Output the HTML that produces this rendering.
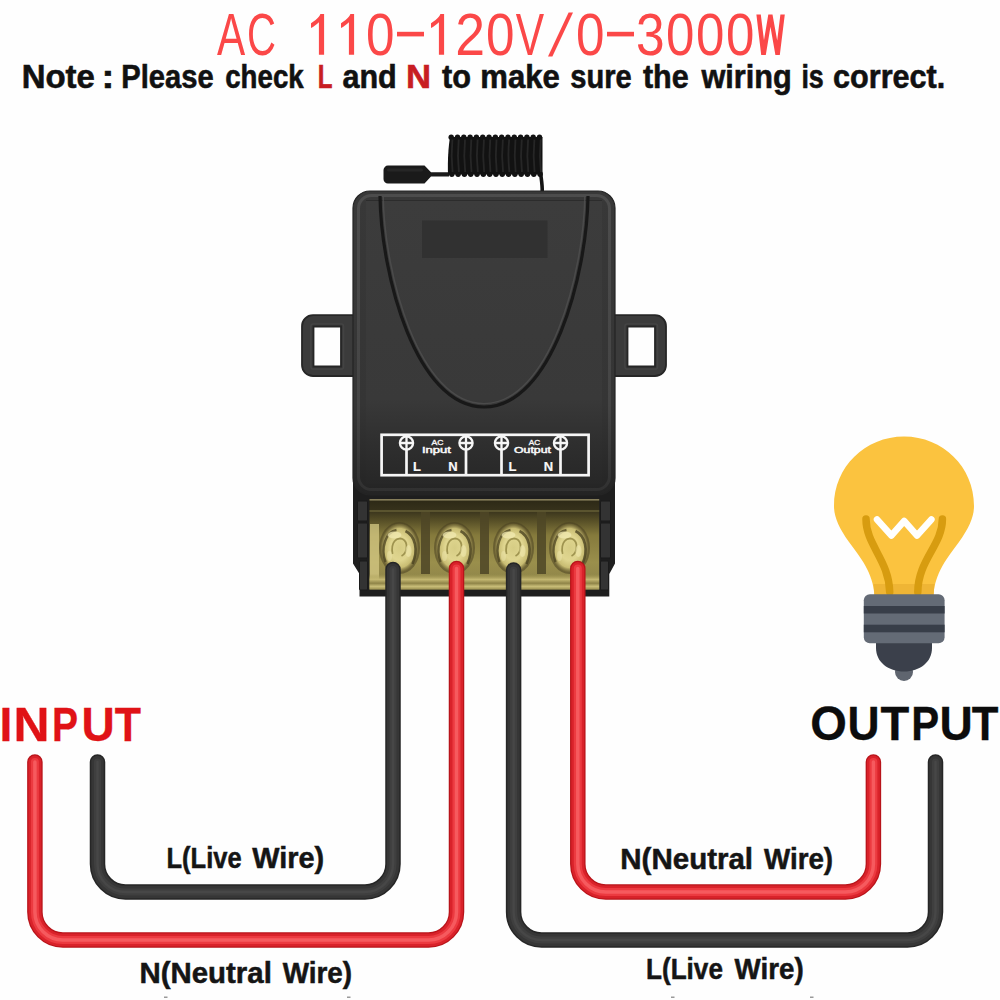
<!DOCTYPE html>
<html><head><meta charset="utf-8">
<style>
html,body{margin:0;padding:0;background:#fefefe;width:1000px;height:1000px;overflow:hidden}
svg{display:block}
text{font-family:"Liberation Sans",sans-serif;font-weight:bold}
</style></head>
<body>
<svg width="1000" height="1000" viewBox="0 0 1000 1000">
<defs>
  <linearGradient id="brass" x1="0" y1="499" x2="0" y2="589.5" gradientUnits="userSpaceOnUse">
    <stop offset="0" stop-color="#2c2816"/>
    <stop offset="0.12" stop-color="#36311b"/>
    <stop offset="0.25" stop-color="#5a5228"/>
    <stop offset="0.4" stop-color="#857a3c"/>
    <stop offset="0.7" stop-color="#9a8f4c"/>
    <stop offset="1" stop-color="#8a8048"/>
  </linearGradient>
  <linearGradient id="shelf" x1="0" y1="0" x2="0" y2="1">
    <stop offset="0" stop-color="#a29650" stop-opacity="0"/>
    <stop offset="0.35" stop-color="#c4b872"/>
    <stop offset="0.6" stop-color="#8f8448"/>
    <stop offset="0.8" stop-color="#c9bd78"/>
    <stop offset="1" stop-color="#9a8f50"/>
  </linearGradient>
  <radialGradient id="screw" cx="0.5" cy="0.5" r="0.5">
    <stop offset="0" stop-color="#d6cc84"/>
    <stop offset="0.5" stop-color="#e0d690"/>
    <stop offset="0.8" stop-color="#c8bc72"/>
    <stop offset="1" stop-color="#6d6232" stop-opacity="0.6"/>
  </radialGradient>
  <linearGradient id="bodyg" x1="0" y1="191" x2="0" y2="495" gradientUnits="userSpaceOnUse">
    <stop offset="0" stop-color="#383838"/>
    <stop offset="0.7" stop-color="#353535"/>
    <stop offset="1" stop-color="#242424"/>
  </linearGradient>
  <linearGradient id="faceg" x1="0" y1="200" x2="0" y2="484" gradientUnits="userSpaceOnUse">
    <stop offset="0" stop-color="#3c3c3c"/>
    <stop offset="0.7" stop-color="#393939"/>
    <stop offset="0.85" stop-color="#2f2f2f"/>
    <stop offset="1" stop-color="#272727"/>
  </linearGradient>
  <linearGradient id="rimg" x1="0" y1="191" x2="0" y2="495" gradientUnits="userSpaceOnUse">
    <stop offset="0" stop-color="#4c4c4c"/>
    <stop offset="0.7" stop-color="#454545"/>
    <stop offset="1" stop-color="#303030"/>
  </linearGradient>
</defs>

<!-- Title -->
<g fill="#fb4848" stroke="none">
<text transform="translate(216.92,54.5) scale(0.709,1)" font-size="59.6" style="font-weight:normal">A</text>
<text transform="translate(246.96,54.5) scale(0.673,1)" font-size="59.6" style="font-weight:normal">C</text>
<path d="M324.1,14 V54.8 H318.9 V22.2 C316.3,24.6 313.7,26.6 311.0,28 V23.2 C314.6,21 319.4,17.5 320.4,14 Z"/>
<path d="M354.1,14 V54.8 H348.9 V22.2 C346.3,24.6 343.7,26.6 341.0,28 V23.2 C344.6,21 349.4,17.5 350.4,14 Z"/>
<text transform="translate(366.00,54.5) scale(0.860,1)" font-size="59.6" style="font-weight:normal">0</text>
<rect x="397" y="31.8" width="27" height="4.6"/>
<path d="M444.1,14 V54.8 H438.9 V22.2 C436.3,24.6 433.7,26.6 431.0,28 V23.2 C434.6,21 439.4,17.5 440.4,14 Z"/>
<text transform="translate(455.31,54.5) scale(0.899,1)" font-size="59.6" style="font-weight:normal">2</text>
<text transform="translate(486.00,54.5) scale(0.860,1)" font-size="59.6" style="font-weight:normal">0</text>
<text transform="translate(515.81,54.5) scale(0.714,1)" font-size="59.6" style="font-weight:normal">V</text>
<path d="M568.6,12.6 H573.0 L552.4,56.6 H548.0 Z"/>
<text transform="translate(576.00,54.5) scale(0.860,1)" font-size="59.6" style="font-weight:normal">0</text>
<rect x="607" y="31.8" width="27" height="4.6"/>
<text transform="translate(636.04,54.5) scale(0.863,1)" font-size="59.6" style="font-weight:normal">3</text>
<text transform="translate(666.01,54.5) scale(0.856,1)" font-size="59.6" style="font-weight:normal">0</text>
<text transform="translate(696.01,54.5) scale(0.856,1)" font-size="59.6" style="font-weight:normal">0</text>
<text transform="translate(726.01,54.5) scale(0.856,1)" font-size="59.6" style="font-weight:normal">0</text>
<path d="M756.4,14.6 H760.8 L765.8,55 H761.2 Z M768.3,14.6 H772.5 L765.8,55 H761.5 Z M768.3,14.6 H772.5 L779.8,55 H775.4 Z M780.4,14.6 H784.8 L779.8,55 H775.4 Z"/>
</g>

<text x="21.70" y="88" font-size="33" fill="#111" stroke="#111" stroke-width="0.6" textLength="73.13" lengthAdjust="spacingAndGlyphs">Note</text>
<text x="101.61" y="88" font-size="33" fill="#111" stroke="#111" stroke-width="0.6" textLength="12.79" lengthAdjust="spacingAndGlyphs">:</text>
<text x="121.35" y="88" font-size="33" fill="#111" stroke="#111" stroke-width="0.6" textLength="92.34" lengthAdjust="spacingAndGlyphs">Please</text>
<text x="225.22" y="88" font-size="33" fill="#111" stroke="#111" stroke-width="0.6" textLength="78.45" lengthAdjust="spacingAndGlyphs">check</text>
<text x="317.68" y="88" font-size="33" fill="#c81d23" stroke="#c81d23" stroke-width="0.6" textLength="14.76" lengthAdjust="spacingAndGlyphs">L</text>
<text x="342.41" y="88" font-size="33" fill="#111" stroke="#111" stroke-width="0.6" textLength="54.31" lengthAdjust="spacingAndGlyphs">and</text>
<text x="405.98" y="88" font-size="33" fill="#c81d23" stroke="#c81d23" stroke-width="0.6" textLength="25.06" lengthAdjust="spacingAndGlyphs">N</text>
<text x="441.93" y="88" font-size="33" fill="#111" stroke="#111" stroke-width="0.6" textLength="28.97" lengthAdjust="spacingAndGlyphs">to</text>
<text x="480.25" y="88" font-size="33" fill="#111" stroke="#111" stroke-width="0.6" textLength="79.51" lengthAdjust="spacingAndGlyphs">make</text>
<text x="570.28" y="88" font-size="33" fill="#111" stroke="#111" stroke-width="0.6" textLength="61.42" lengthAdjust="spacingAndGlyphs">sure</text>
<text x="642.93" y="88" font-size="33" fill="#111" stroke="#111" stroke-width="0.6" textLength="45.82" lengthAdjust="spacingAndGlyphs">the</text>
<text x="701.39" y="88" font-size="33" fill="#111" stroke="#111" stroke-width="0.6" textLength="90.36" lengthAdjust="spacingAndGlyphs">wiring</text>
<text x="801.43" y="88" font-size="33" fill="#111" stroke="#111" stroke-width="0.6" textLength="22.37" lengthAdjust="spacingAndGlyphs">is</text>
<text x="833.11" y="88" font-size="33" fill="#111" stroke="#111" stroke-width="0.6" textLength="112.20" lengthAdjust="spacingAndGlyphs">correct.</text>


<!-- Antenna -->
<g id="antenna">
  <path d="M388,165.6 H424.5 L431,172.3 H449 V176.6 H431 L424.5,183.6 H388 A4.5,4.5 0 0 1 383.5,179.1 V170.1 A4.5,4.5 0 0 1 388,165.6 Z" fill="#1a1a1a"/>
  <rect x="387" y="168.5" width="36" height="3" rx="1.5" fill="#262626"/>
  <path d="M540.5,172 C541,178 542.5,184 542.2,192" fill="none" stroke="#141414" stroke-width="3.6"/>
<path d="M450,137 H542.5 V174.5 H448 C447.5,160 448.5,146 450,137 Z" fill="#121212"/>
<circle cx="451.20" cy="137.3" r="2.7" fill="#121212"/>
<circle cx="451.80" cy="174.2" r="2.7" fill="#121212"/>
<circle cx="457.51" cy="137.3" r="2.7" fill="#121212"/>
<circle cx="458.11" cy="174.2" r="2.7" fill="#121212"/>
<circle cx="463.81" cy="137.3" r="2.7" fill="#121212"/>
<circle cx="464.41" cy="174.2" r="2.7" fill="#121212"/>
<circle cx="470.12" cy="137.3" r="2.7" fill="#121212"/>
<circle cx="470.72" cy="174.2" r="2.7" fill="#121212"/>
<circle cx="476.43" cy="137.3" r="2.7" fill="#121212"/>
<circle cx="477.03" cy="174.2" r="2.7" fill="#121212"/>
<circle cx="482.74" cy="137.3" r="2.7" fill="#121212"/>
<circle cx="483.34" cy="174.2" r="2.7" fill="#121212"/>
<circle cx="489.04" cy="137.3" r="2.7" fill="#121212"/>
<circle cx="489.64" cy="174.2" r="2.7" fill="#121212"/>
<circle cx="495.35" cy="137.3" r="2.7" fill="#121212"/>
<circle cx="495.95" cy="174.2" r="2.7" fill="#121212"/>
<circle cx="501.66" cy="137.3" r="2.7" fill="#121212"/>
<circle cx="502.26" cy="174.2" r="2.7" fill="#121212"/>
<circle cx="507.96" cy="137.3" r="2.7" fill="#121212"/>
<circle cx="508.56" cy="174.2" r="2.7" fill="#121212"/>
<circle cx="514.27" cy="137.3" r="2.7" fill="#121212"/>
<circle cx="514.87" cy="174.2" r="2.7" fill="#121212"/>
<circle cx="520.58" cy="137.3" r="2.7" fill="#121212"/>
<circle cx="521.18" cy="174.2" r="2.7" fill="#121212"/>
<circle cx="526.89" cy="137.3" r="2.7" fill="#121212"/>
<circle cx="527.49" cy="174.2" r="2.7" fill="#121212"/>
<circle cx="533.19" cy="137.3" r="2.7" fill="#121212"/>
<circle cx="533.79" cy="174.2" r="2.7" fill="#121212"/>
<circle cx="539.50" cy="137.3" r="2.7" fill="#121212"/>
<circle cx="540.10" cy="174.2" r="2.7" fill="#121212"/>
<path d="M452.40,139.5 C451.40,150 451.50,162 452.60,172" stroke="#2a2a2a" stroke-width="1.8" fill="none" opacity="0.85"/>
<path d="M458.71,139.5 C457.71,150 457.81,162 458.91,172" stroke="#2a2a2a" stroke-width="1.8" fill="none" opacity="0.85"/>
<path d="M465.01,139.5 C464.01,150 464.11,162 465.21,172" stroke="#2a2a2a" stroke-width="1.8" fill="none" opacity="0.85"/>
<path d="M471.32,139.5 C470.32,150 470.42,162 471.52,172" stroke="#2a2a2a" stroke-width="1.8" fill="none" opacity="0.85"/>
<path d="M477.63,139.5 C476.63,150 476.73,162 477.83,172" stroke="#2a2a2a" stroke-width="1.8" fill="none" opacity="0.85"/>
<path d="M483.94,139.5 C482.94,150 483.04,162 484.14,172" stroke="#2a2a2a" stroke-width="1.8" fill="none" opacity="0.85"/>
<path d="M490.24,139.5 C489.24,150 489.34,162 490.44,172" stroke="#2a2a2a" stroke-width="1.8" fill="none" opacity="0.85"/>
<path d="M496.55,139.5 C495.55,150 495.65,162 496.75,172" stroke="#2a2a2a" stroke-width="1.8" fill="none" opacity="0.85"/>
<path d="M502.86,139.5 C501.86,150 501.96,162 503.06,172" stroke="#2a2a2a" stroke-width="1.8" fill="none" opacity="0.85"/>
<path d="M509.16,139.5 C508.16,150 508.26,162 509.36,172" stroke="#2a2a2a" stroke-width="1.8" fill="none" opacity="0.85"/>
<path d="M515.47,139.5 C514.47,150 514.57,162 515.67,172" stroke="#2a2a2a" stroke-width="1.8" fill="none" opacity="0.85"/>
<path d="M521.78,139.5 C520.78,150 520.88,162 521.98,172" stroke="#2a2a2a" stroke-width="1.8" fill="none" opacity="0.85"/>
<path d="M528.09,139.5 C527.09,150 527.19,162 528.29,172" stroke="#2a2a2a" stroke-width="1.8" fill="none" opacity="0.85"/>
<path d="M534.39,139.5 C533.39,150 533.49,162 534.59,172" stroke="#2a2a2a" stroke-width="1.8" fill="none" opacity="0.85"/>
<path d="M540.70,139.5 C539.70,150 539.80,162 540.90,172" stroke="#2a2a2a" stroke-width="1.8" fill="none" opacity="0.85"/>

</g>

<!-- Ears -->
<g fill-rule="evenodd" stroke="#262626" stroke-width="1.8" fill="#3b3b3b">
<path d="M360,315.2 H313 A11,11 0 0 0 302,326.2 V365 A11,11 0 0 0 313,376 H360 Z M313.5,326.5 H341 V366.5 H313.5 Z"/>
<path d="M608,315.2 H655 A11,11 0 0 1 666,326.2 V365 A11,11 0 0 1 655,376 H608 Z M627.5,326.5 H655 V366.5 H627.5 Z"/>
</g>

<g fill="none" stroke="#474747" stroke-width="1.2" opacity="0.8">
<rect x="310.8" y="323.8" width="32.9" height="45.4" rx="2.5"/>
<rect x="624.8" y="323.8" width="32.9" height="45.4" rx="2.5"/>
</g>
<!-- Lower frame -->
<path d="M353,470 H615 V563.5 L609.3,574 V596.5 H359.5 V574 L353,563.5 Z" fill="#1e1e1e"/>
<g fill="#333333" stroke="#1a1a1a" stroke-width="1">
  <rect x="357.5" y="501" width="10" height="20" rx="1"/>
  <rect x="357.5" y="523" width="10" height="35" rx="1"/>
  <rect x="359.5" y="561" width="8" height="29" rx="1"/>
  <rect x="600.5" y="501" width="10" height="20" rx="1"/>
  <rect x="600.5" y="523" width="10" height="35" rx="1"/>
  <rect x="600.5" y="561" width="8" height="29" rx="1"/>
</g>
<!-- Body -->
<path d="M370,191 H598 A17,17 0 0 1 615,208 V478 A17,17 0 0 1 598,495 H370 A17,17 0 0 1 353,478 V208 A17,17 0 0 1 370,191 Z" fill="url(#bodyg)" stroke="#242424" stroke-width="1.2"/>
<path d="M372,195.5 H596 A13,13 0 0 1 609.5,208.5 V476 A13,13 0 0 1 596,489.5 H372 A13,13 0 0 1 358.5,476 V208.5 A13,13 0 0 1 372,195.5 Z" fill="none" stroke="url(#rimg)" stroke-width="3"/>
<path d="M366,200.5 H602 V484 H366 Z" fill="url(#faceg)"/>
<path d="M366,200.5 H602" stroke="#2c2c2c" stroke-width="1.2"/>
<rect x="422" y="220.5" width="125.5" height="37.5" fill="#313131"/>
<path d="M380,196 C381,275 416,407 484,407 C552,407 587,275 588,196" fill="none" stroke="#181818" stroke-width="3.2"/>
<path d="M383.2,196 C384.2,273 418.5,403.6 484,403.6 C549.5,403.6 583.8,273 584.8,196" fill="none" stroke="#505050" stroke-width="1.4" opacity="0.8"/>

<!-- Label box -->
<g stroke="#f6f6f6" fill="none" stroke-width="2.7">
  <rect x="381.6" y="434.8" width="207" height="40.4"/>
  <line x1="406.5" y1="449" x2="406.5" y2="475"/>
  <line x1="466" y1="449" x2="466" y2="475"/>
  <line x1="501.5" y1="449" x2="501.5" y2="475"/>
  <line x1="560.5" y1="449" x2="560.5" y2="475"/>
</g>
<g stroke="#f6f6f6" fill="none" stroke-width="2.3">
  <circle cx="406.5" cy="443" r="6.6"/><path d="M399.9,443 H413.1 M406.5,436.4 V449.6"/>
  <circle cx="466" cy="443" r="6.6"/><path d="M459.4,443 H472.6 M466,436.4 V449.6"/>
  <circle cx="501.5" cy="443" r="6.6"/><path d="M494.9,443 H508.1 M501.5,436.4 V449.6"/>
  <circle cx="560.5" cy="443" r="6.6"/><path d="M553.9,443 H567.1 M560.5,436.4 V449.6"/>
</g>
<g fill="#f8f8f8" stroke="#f8f8f8">
  <text x="431.5" y="444.6" font-size="8.1" stroke-width="0.35" style="font-weight:normal" textLength="12" lengthAdjust="spacingAndGlyphs">AC</text>
  <text x="422" y="452.9" font-size="9.4" stroke-width="0.5" style="font-weight:normal" textLength="29" lengthAdjust="spacingAndGlyphs">Input</text>
  <text x="528.8" y="444.6" font-size="8.1" stroke-width="0.35" style="font-weight:normal" textLength="11.5" lengthAdjust="spacingAndGlyphs">AC</text>
  <text x="514" y="452.9" font-size="9.4" stroke-width="0.5" style="font-weight:normal" textLength="37" lengthAdjust="spacingAndGlyphs">Output</text>
  <text x="413" y="471.2" font-size="13" stroke-width="0.2">L</text>
  <text x="448.3" y="471.2" font-size="13" stroke-width="0.2">N</text>
  <text x="508.6" y="471.2" font-size="13" stroke-width="0.2">L</text>
  <text x="543.8" y="471.2" font-size="13" stroke-width="0.2">N</text>
</g>

<!-- Brass terminal -->
<rect x="369.5" y="499" width="229.7" height="90.5" fill="url(#brass)"/>
<rect x="369.5" y="499" width="229.7" height="1.6" fill="#857d5a"/>
<rect x="369.5" y="510" width="229.7" height="2" fill="#6a6238" opacity="0.7"/>
<g fill="#4e4626" opacity="0.85">
  <rect x="421" y="512" width="9" height="62"/>
  <rect x="480" y="512" width="9" height="62"/>
  <rect x="537" y="512" width="9" height="62"/>
</g>
<g fill="#d6ca84" opacity="0.75">
  <rect x="370" y="524" width="9" height="62"/>
</g>
<ellipse cx="399.5" cy="548" rx="20.5" ry="26" fill="#4a4222" opacity="0.55"/>
<ellipse cx="399.5" cy="548" rx="19" ry="24.5" fill="url(#screw)"/>
<path d="M385.5,562 C380.5,548 385.5,532 396.5,530" fill="none" stroke="#4a4220" stroke-width="2.4" opacity="0.75"/>
<path d="M405.5,531 C415.5,536 418.5,550 412.5,564" fill="none" stroke="#4a4220" stroke-width="2.6" opacity="0.8"/>
<path d="M392.5,554 C390.5,542 396.5,537 402.5,539 C408.5,542 407.5,553 401.5,556" fill="none" stroke="#8f8340" stroke-width="1.8" opacity="0.8"/>
<ellipse cx="394.5" cy="535" rx="7" ry="3.5" fill="#f2eab2" opacity="0.75"/>
<ellipse cx="408.5" cy="551" rx="3" ry="6" fill="#eee6ac" opacity="0.65"/>
<ellipse cx="389.5" cy="556" rx="2.5" ry="5" fill="#eee6ac" opacity="0.5"/>
<ellipse cx="454.5" cy="548" rx="20.5" ry="26" fill="#4a4222" opacity="0.55"/>
<ellipse cx="454.5" cy="548" rx="19" ry="24.5" fill="url(#screw)"/>
<path d="M440.5,562 C435.5,548 440.5,532 451.5,530" fill="none" stroke="#4a4220" stroke-width="2.4" opacity="0.75"/>
<path d="M460.5,531 C470.5,536 473.5,550 467.5,564" fill="none" stroke="#4a4220" stroke-width="2.6" opacity="0.8"/>
<path d="M447.5,554 C445.5,542 451.5,537 457.5,539 C463.5,542 462.5,553 456.5,556" fill="none" stroke="#8f8340" stroke-width="1.8" opacity="0.8"/>
<ellipse cx="449.5" cy="535" rx="7" ry="3.5" fill="#f2eab2" opacity="0.75"/>
<ellipse cx="463.5" cy="551" rx="3" ry="6" fill="#eee6ac" opacity="0.65"/>
<ellipse cx="444.5" cy="556" rx="2.5" ry="5" fill="#eee6ac" opacity="0.5"/>
<ellipse cx="513.5" cy="548" rx="20.5" ry="26" fill="#4a4222" opacity="0.55"/>
<ellipse cx="513.5" cy="548" rx="19" ry="24.5" fill="url(#screw)"/>
<path d="M499.5,562 C494.5,548 499.5,532 510.5,530" fill="none" stroke="#4a4220" stroke-width="2.4" opacity="0.75"/>
<path d="M519.5,531 C529.5,536 532.5,550 526.5,564" fill="none" stroke="#4a4220" stroke-width="2.6" opacity="0.8"/>
<path d="M506.5,554 C504.5,542 510.5,537 516.5,539 C522.5,542 521.5,553 515.5,556" fill="none" stroke="#8f8340" stroke-width="1.8" opacity="0.8"/>
<ellipse cx="508.5" cy="535" rx="7" ry="3.5" fill="#f2eab2" opacity="0.75"/>
<ellipse cx="522.5" cy="551" rx="3" ry="6" fill="#eee6ac" opacity="0.65"/>
<ellipse cx="503.5" cy="556" rx="2.5" ry="5" fill="#eee6ac" opacity="0.5"/>
<ellipse cx="569.5" cy="548" rx="20.5" ry="26" fill="#4a4222" opacity="0.55"/>
<ellipse cx="569.5" cy="548" rx="19" ry="24.5" fill="url(#screw)"/>
<path d="M555.5,562 C550.5,548 555.5,532 566.5,530" fill="none" stroke="#4a4220" stroke-width="2.4" opacity="0.75"/>
<path d="M575.5,531 C585.5,536 588.5,550 582.5,564" fill="none" stroke="#4a4220" stroke-width="2.6" opacity="0.8"/>
<path d="M562.5,554 C560.5,542 566.5,537 572.5,539 C578.5,542 577.5,553 571.5,556" fill="none" stroke="#8f8340" stroke-width="1.8" opacity="0.8"/>
<ellipse cx="564.5" cy="535" rx="7" ry="3.5" fill="#f2eab2" opacity="0.75"/>
<ellipse cx="578.5" cy="551" rx="3" ry="6" fill="#eee6ac" opacity="0.65"/>
<ellipse cx="559.5" cy="556" rx="2.5" ry="5" fill="#eee6ac" opacity="0.5"/>

<rect x="369.5" y="574" width="229.7" height="15.5" fill="url(#shelf)"/>

<!-- Wires -->
<g fill="none" stroke-linecap="round">
  <g stroke="#262626" stroke-width="15.5">
    <path d="M393,569.5 V864 A28,28 0 0 1 365,892 H125.5 A28,28 0 0 1 97.5,864 V762"/>
    <path d="M513.6,570 V912 A28,28 0 0 0 541.6,940 H907.5 A28,28 0 0 0 935.5,912 V762"/>
  </g>
  <g stroke="#363636" stroke-width="12.5">
    <path d="M393,569.5 V864 A28,28 0 0 1 365,892 H125.5 A28,28 0 0 1 97.5,864 V762"/>
    <path d="M513.6,570 V912 A28,28 0 0 0 541.6,940 H907.5 A28,28 0 0 0 935.5,912 V762"/>
  </g>
  <g stroke="#3f3f3f" stroke-width="7">
    <path d="M393,569.5 V864 A28,28 0 0 1 365,892 H125.5 A28,28 0 0 1 97.5,864 V762"/>
    <path d="M513.6,570 V912 A28,28 0 0 0 541.6,940 H907.5 A28,28 0 0 0 935.5,912 V762"/>
  </g>
  <g stroke="#474747" stroke-width="2.5">
    <path d="M393,569.5 V864 A28,28 0 0 1 365,892 H125.5 A28,28 0 0 1 97.5,864 V762"/>
    <path d="M513.6,570 V912 A28,28 0 0 0 541.6,940 H907.5 A28,28 0 0 0 935.5,912 V762"/>
  </g>
  <g stroke="#b8141a" stroke-width="15.5">
    <path d="M456.5,568.5 V912 A28,28 0 0 1 428.5,940 H62.9 A28,28 0 0 1 34.9,912 V762"/>
    <path d="M577.8,568.5 V864 A28,28 0 0 0 605.8,892 H845.4 A28,28 0 0 0 873.4,864 V762"/>
  </g>
  <g stroke="#d9222a" stroke-width="13">
    <path d="M456.5,568.5 V912 A28,28 0 0 1 428.5,940 H62.9 A28,28 0 0 1 34.9,912 V762"/>
    <path d="M577.8,568.5 V864 A28,28 0 0 0 605.8,892 H845.4 A28,28 0 0 0 873.4,864 V762"/>
  </g>
  <g stroke="#ec3a40" stroke-width="8">
    <path d="M456.5,568.5 V912 A28,28 0 0 1 428.5,940 H62.9 A28,28 0 0 1 34.9,912 V762"/>
    <path d="M577.8,568.5 V864 A28,28 0 0 0 605.8,892 H845.4 A28,28 0 0 0 873.4,864 V762"/>
  </g>
  <g stroke="#f65a5e" stroke-width="3.5">
    <path d="M456.5,568.5 V912 A28,28 0 0 1 428.5,940 H62.9 A28,28 0 0 1 34.9,912 V762"/>
    <path d="M577.8,568.5 V864 A28,28 0 0 0 605.8,892 H845.4 A28,28 0 0 0 873.4,864 V762"/>
  </g>
</g>

<!-- Bulb -->
<g id="bulb">
  <path d="M874.5,595 C873,573 861,558 849,542 C839,528 834,517 834,506 C834,467 865,436.5 904,436.5 C943,436.5 974,467 974,506 C974,517 969,528 959,542 C947,558 935,573 933.5,595 Z" fill="#fbc33f"/>
  <path d="M873.6,584 H934.4 L933.6,595 H874.4 Z" fill="#efb535"/>
  <path d="M866,519 C866,545 889,560 889.7,592" fill="none" stroke="#d79c10" stroke-width="7.5" stroke-linecap="round"/>
  <path d="M942.4,519 C942.4,545 918,560 917.8,592" fill="none" stroke="#d79c10" stroke-width="7.5" stroke-linecap="round"/>
  <path d="M877,519.5 L891.4,535.5 L904.2,521 L917,535.5 L931.4,519.5" fill="none" stroke="#fff" stroke-width="6.5" stroke-linecap="round" stroke-linejoin="round"/>
  <circle cx="904" cy="672" r="9" fill="#5f656f"/>
  <path d="M876,640 H932 V648 C932,662 920,671.5 904,671.5 C888,671.5 876,662 876,648 Z" fill="#3b404b"/>
  <rect x="863.8" y="594.3" width="80.8" height="49" rx="6" fill="#646b76"/>
  <rect x="863.8" y="606" width="80.8" height="7.5" fill="#383e49"/>
  <rect x="863.8" y="624.7" width="80.8" height="7.6" fill="#383e49"/>
</g>

<!-- Labels -->
<text x="-0.46" y="741" font-size="48" fill="#e01216" stroke="#e01216" stroke-width="0.3" textLength="12.92" lengthAdjust="spacingAndGlyphs">I</text>
<text x="13.62" y="741" font-size="48" fill="#e01216" stroke="#e01216" stroke-width="0.3" textLength="35.99" lengthAdjust="spacingAndGlyphs">N</text>
<text x="51.94" y="741" font-size="48" fill="#e01216" stroke="#e01216" stroke-width="0.3" textLength="26.05" lengthAdjust="spacingAndGlyphs">P</text>
<text x="81.38" y="741" font-size="48" fill="#e01216" stroke="#e01216" stroke-width="0.3" textLength="33.28" lengthAdjust="spacingAndGlyphs">U</text>
<text x="114.87" y="741" font-size="48" fill="#e01216" stroke="#e01216" stroke-width="0.3" textLength="26.24" lengthAdjust="spacingAndGlyphs">T</text>
<text x="810.22" y="740" font-size="48" fill="#0c0c0c" stroke="#0c0c0c" stroke-width="0.3" textLength="36.61" lengthAdjust="spacingAndGlyphs">O</text>
<text x="847.48" y="740" font-size="48" fill="#0c0c0c" stroke="#0c0c0c" stroke-width="0.3" textLength="32.08" lengthAdjust="spacingAndGlyphs">U</text>
<text x="880.62" y="740" font-size="48" fill="#0c0c0c" stroke="#0c0c0c" stroke-width="0.3" textLength="28.73" lengthAdjust="spacingAndGlyphs">T</text>
<text x="911.35" y="740" font-size="48" fill="#0c0c0c" stroke="#0c0c0c" stroke-width="0.3" textLength="27.93" lengthAdjust="spacingAndGlyphs">P</text>
<text x="939.38" y="740" font-size="48" fill="#0c0c0c" stroke="#0c0c0c" stroke-width="0.3" textLength="33.28" lengthAdjust="spacingAndGlyphs">U</text>
<text x="971.66" y="740" font-size="48" fill="#0c0c0c" stroke="#0c0c0c" stroke-width="0.3" textLength="26.66" lengthAdjust="spacingAndGlyphs">T</text>
<text x="166.54" y="868" font-size="28.6" fill="#151515" stroke="#151515" stroke-width="0.5" textLength="75.08" lengthAdjust="spacingAndGlyphs">L(Live</text>
<text x="252.22" y="868" font-size="28.6" fill="#151515" stroke="#151515" stroke-width="0.5" textLength="71.96" lengthAdjust="spacingAndGlyphs">Wire)</text>
<text x="139.53" y="983" font-size="28.6" fill="#151515" stroke="#151515" stroke-width="0.5" textLength="132.30" lengthAdjust="spacingAndGlyphs">N(Neutral</text>
<text x="282.72" y="983" font-size="28.6" fill="#151515" stroke="#151515" stroke-width="0.5" textLength="69.41" lengthAdjust="spacingAndGlyphs">Wire)</text>
<text x="620.28" y="868.7" font-size="28.6" fill="#151515" stroke="#151515" stroke-width="0.5" textLength="132.81" lengthAdjust="spacingAndGlyphs">N(Neutral</text>
<text x="763.97" y="868.7" font-size="28.6" fill="#151515" stroke="#151515" stroke-width="0.5" textLength="69.15" lengthAdjust="spacingAndGlyphs">Wire)</text>
<text x="646.00" y="978.5" font-size="28.6" fill="#151515" stroke="#151515" stroke-width="0.5" textLength="76.94" lengthAdjust="spacingAndGlyphs">L(Live</text>
<text x="734.62" y="978.5" font-size="28.6" fill="#151515" stroke="#151515" stroke-width="0.5" textLength="69.10" lengthAdjust="spacingAndGlyphs">Wire)</text>

<g fill="#9a9a9a"><rect x="164" y="996.5" width="3.5" height="1.5"/><rect x="347" y="996.5" width="3.5" height="1.5"/><rect x="671" y="996.5" width="3.5" height="1.5"/><rect x="810" y="996.5" width="3.5" height="1.5"/></g>
</svg>
</body></html>
